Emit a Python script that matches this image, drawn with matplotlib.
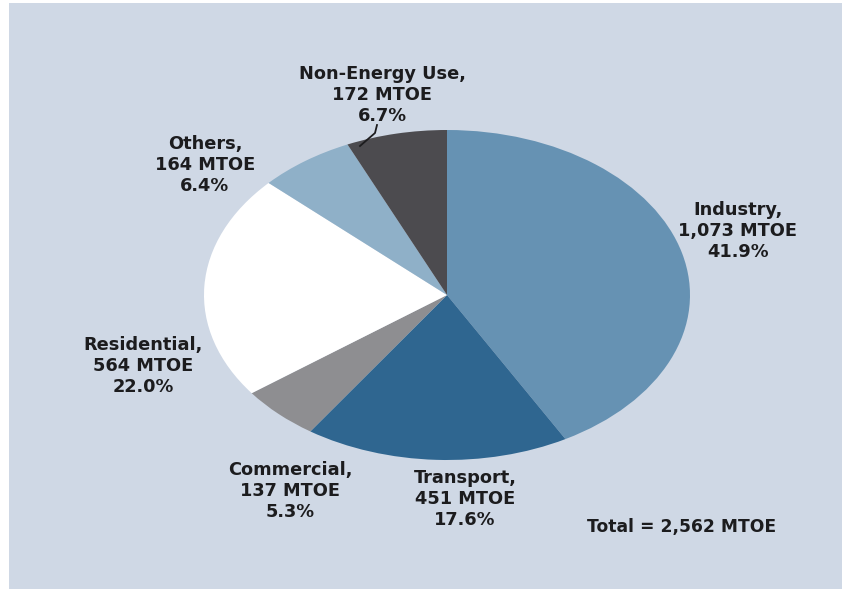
import matplotlib.pyplot as plt
from matplotlib.patches import Rectangle

sectors = ['Industry', 'Transport', 'Commercial', 'Residential', 'Others', 'Non-Energy Use']
mtoe = [1073, 451, 137, 564, 164, 172]
mtoe_text = ['1,073', '451', '137', '564', '164', '172']
pct_text = ['41.9%', '17.6%', '5.3%', '22.0%', '6.4%', '6.7%']
colors = ['#6692b3', '#2f6690', '#8e8e91', '#ffffff', '#8fb0c8', '#4c4b4f']
total_text = 'Total = 2,562 MTOE'

W, H = 854, 589
CX, CY = 447, 294          # pie centre in pixels (from bottom)
RX, RY = 243, 165          # stretched pie radii in pixels


def px(x, y_top):
    # pixel position (from top-left) -> data coords of the pie axes
    return (x - CX) / RX, ((H - y_top) - CY) / RY


fig = plt.figure(figsize=(W / 100, H / 100), dpi=100)
fig.patch.set_facecolor('white')
fig.add_artist(Rectangle((9 / W, 0), (842 - 9) / W, (H - 3) / H,
                         transform=fig.transFigure, facecolor='#cfd8e5',
                         edgecolor='none', zorder=0))

ax = fig.add_axes([0, 0, 1, 1])
ax.patch.set_alpha(0)
ax.pie(mtoe, colors=colors, startangle=90, counterclock=False,
       wedgeprops=dict(linewidth=0))
ax.set_aspect('auto')
ax.set_xlim(-CX / RX, (W - CX) / RX)
ax.set_ylim(-CY / RY, (H - CY) / RY)
ax.axis('off')

label_pos = {
    'Industry': (738, 231),
    'Transport': (465, 499),
    'Commercial': (290, 491),
    'Residential': (143, 366),
    'Others': (205, 165),
    'Non-Energy Use': (382, 95),
}

font = dict(family='DejaVu Sans', weight='bold', fontsize=12.8,
            color='#1c1c1e', ha='center', va='center', linespacing=1.2)

for name, val, pct in zip(sectors, mtoe_text, pct_text):
    x, y = px(*label_pos[name])
    ax.text(x, y, f'{name},\n{val} MTOE\n{pct}', **font)

# leader line for the non-energy label
lx, ly = zip(px(377, 125), px(375, 133), px(360, 146))
ax.plot(lx, ly, color='#1c1c1e', lw=1.3)

tx, ty = px(682, 527)
ax.text(tx, ty, total_text, **{**font, 'fontsize': 12.3, 'linespacing': 1.0})

fig.savefig('out.png', dpi=100)
